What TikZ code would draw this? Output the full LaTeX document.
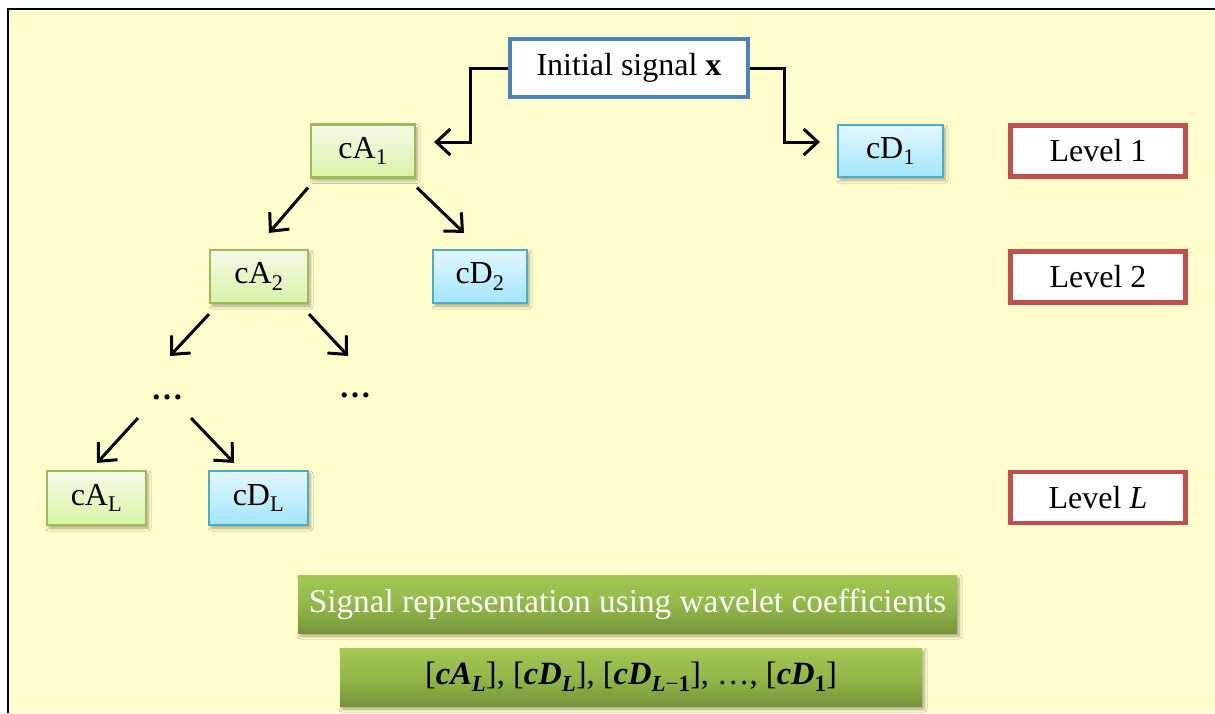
\documentclass[tikz,border=0pt]{standalone}
\usepackage{fontspec}
\setmainfont{Liberation Serif}
\usetikzlibrary{arrows.meta,shadows.blur}
\definecolor{bgyellow}{HTML}{FFFDCB}
\definecolor{initblue}{HTML}{4F81BD}
\definecolor{lvlred}{HTML}{C0504D}
\definecolor{agreen}{HTML}{9BBB59}
\definecolor{dcyan}{HTML}{4BACC6}
\definecolor{agtop}{HTML}{F4FAE8}
\definecolor{agbot}{HTML}{D9F3A6}
\definecolor{dctop}{HTML}{E2F7FE}
\definecolor{dcbot}{HTML}{A3E5FA}
\definecolor{bntop}{HTML}{A2C754}
\definecolor{bnmid}{HTML}{93B849}
\definecolor{bnbot}{HTML}{76953A}
\newcommand\bigfont{\fontsize{32}{38}\selectfont}
\newcommand\repfont{\fontsize{33.3}{38}\selectfont}
\newcommand\coeffont{\fontsize{32.5}{38}\selectfont}
\newcommand\csub[1]{\raisebox{-7pt}{\fontsize{23}{26}\selectfont #1}}
\newcommand\cterm[2]{[\textbf{\textit{#1}}\csub{#2}]}
\newcommand\coeftext{\cterm{cA}{\textbf{\textit{L}}}, \cterm{cD}{\textbf{\textit{L}}}, \cterm{cD}{\textbf{\textit{L}}−\textbf{1}}, …, \cterm{cD}{\textbf{1}}}
\tikzset{
  x=1pt, y=-1pt,
  every node/.style={font=\bigfont, inner sep=0pt, text=black},
  sh/.style={blur shadow={shadow xshift=2pt, shadow yshift=-3pt, shadow opacity=35, shadow blur steps=6, shadow blur radius=3pt}},
  abox/.style={draw=agreen, line width=2.2pt, top color=agtop, bottom color=agbot, sh},
  dbox/.style={draw=dcyan, line width=2.2pt, top color=dctop, bottom color=dcbot, sh},
  lvlbox/.style={draw=lvlred, line width=4.5pt, fill=white, minimum width=175pt, minimum height=51pt},
  banner/.style={draw=none, top color=bntop, bottom color=bnbot, middle color=bnmid, sh},
  arr/.style={-{Straight Barb[length=14pt,width=26pt]}, line width=3pt, line join=miter}
}
\begin{document}
\begin{tikzpicture}
\useasboundingbox (0,0) rectangle (1215,713);
\fill[white] (0,0) rectangle (1215,713);
\fill[bgyellow] (8,9) rectangle (1215,713);
\draw[line width=2.4pt, black] (8,713) -- (8,9) -- (1215,9);

\node[draw=initblue, line width=4.5pt, fill=white, minimum width=238pt, minimum height=58pt] (init) at (629,68) {Initial signal \textbf{x}};

\node[abox, minimum width=104pt, minimum height=53pt] (cA1) at (363,151) {cA\textsubscript{1}};
\node[dbox, minimum width=105pt, minimum height=52pt] (cD1) at (890.5,151) {cD\textsubscript{1}};
\node[abox, minimum width=98pt, minimum height=53pt] (cA2) at (259,276.5) {cA\textsubscript{2}};
\node[dbox, minimum width=94pt, minimum height=53pt] (cD2) at (480,276.5) {cD\textsubscript{2}};
\node (dots1) at (167,397) {\textbf{\ldots}};
\node (dots2) at (355,395) {\textbf{\ldots}};
\node[abox, minimum width=99pt, minimum height=54pt] (cAL) at (96.5,498) {cA\textsubscript{L}};
\node[dbox, minimum width=99pt, minimum height=54pt] (cDL) at (258.5,498) {cD\textsubscript{L}};

\node[lvlbox] (lv1) at (1098,151) {Level 1};
\node[lvlbox] (lv2) at (1098,277) {Level 2};
\node[lvlbox] (lvL) at (1098,497.5) {Level \textit{L}};

\node[banner, minimum width=659pt, minimum height=58pt, text=white, font=\repfont] (rep) at (627.5,604) {Signal representation using wavelet coefficients};
\node[banner, minimum width=582pt, minimum height=58pt, font=\coeffont] (coef) at (631,677) {\coeftext};

\draw[arr] (init.west) -- ++(-37,0) |- ([shift={(18,-9)}]cA1.east);
\draw[arr] (init.east) -- ++(34,0) |- ([shift={(-17,-9)}]cD1.west);
\draw[arr] ([shift={(-55,9)}]cA1.south) -- ([shift={(10,-16)}]cA2.north);
\draw[arr] ([shift={(54,9)}]cA1.south) -- ([shift={(-16,-16)}]cD2.north);
\draw[arr] ([shift={(-50,10)}]cA2.south) -- ([shift={(3,-41)}]dots1.center);
\draw[arr] ([shift={(50,10)}]cA2.south) -- ([shift={(-7,-39)}]dots2.center);
\draw[arr] ([shift={(-29,21)}]dots1.center) -- ([shift={(0.5,-7)}]cAL.north);
\draw[arr] ([shift={(24,21)}]dots1.center) -- ([shift={(-24.5,-7)}]cDL.north);
\end{tikzpicture}
\end{document}
